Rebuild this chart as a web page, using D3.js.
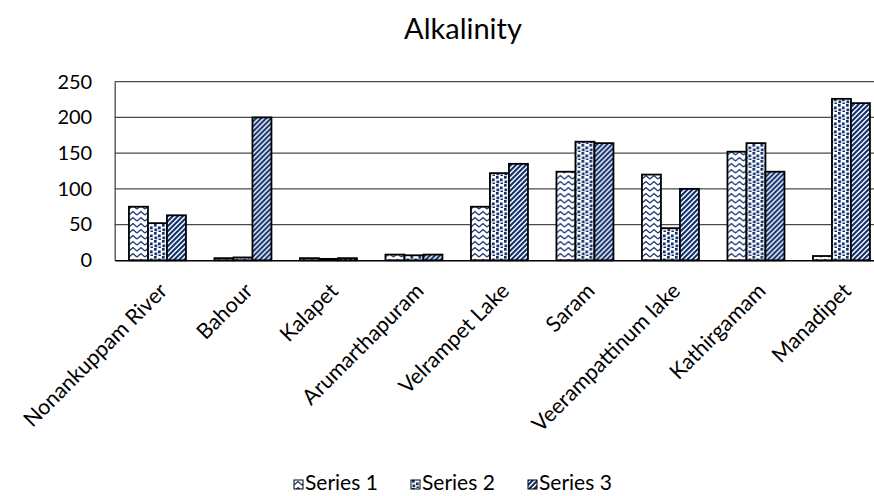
<!DOCTYPE html>
<html>
<head>
<meta charset="utf-8">
<script src="https://cdn.jsdelivr.net/npm/d3@7/dist/d3.min.js"></script>
<style>
  html, body { margin: 0; padding: 0; background: #fff; }
  svg { display: block; font-family: Lato, "Open Sans", sans-serif; }
</style>
</head>
<body>
<svg id="chart" width="874" height="496"></svg>
<script>
// Sampling sites along the x axis
const categories = ["Nonankuppam River", "Bahour", "Kalapet", "Arumarthapuram",
  "Velrampet Lake", "Saram", "Veerampattinum lake", "Kathirgamam", "Manadipet"];
const seriesNames = ["Series 1", "Series 2", "Series 3"];
const series1 = [75, 3, 3, 8, 75, 124, 120, 152, 6];
const series2 = [52, 4, 2, 7, 122, 166, 45, 164, 226];
const series3 = [63, 200, 3, 8, 135, 164, 100, 124, 220];
const yTicks = [0, 50, 100, 150, 200, 250];
const title = "Alkalinity";

const allSeries = [series1, series2, series3];
const navy = "#0f2f6e";

const svg = d3.select("#chart");
const plot = { left: 114.7, right: 884.2, top: 81.7, bottom: 260.3 };

// Fill patterns: zigzag, large confetti, wide upward diagonal
const defs = svg.append("defs");

const zig = defs.append("pattern").attr("id", "pat0")
  .attr("patternUnits", "userSpaceOnUse").attr("width", 8).attr("height", 6);
zig.append("rect").attr("width", 8).attr("height", 6).attr("fill", "#fff");
zig.append("polyline").attr("points", "0,5 4,1.5 8,5")
  .attr("fill", "none").attr("stroke", navy).attr("stroke-width", 1.3);

const conf = defs.append("pattern").attr("id", "pat1")
  .attr("patternUnits", "userSpaceOnUse").attr("width", 8).attr("height", 8);
conf.append("rect").attr("width", 8).attr("height", 8).attr("fill", "#fff");
[[1, 0], [5, 2.5], [1.5, 4.5], [5.5, 6.5]].forEach(([x, y]) => {
  conf.append("rect").attr("x", x).attr("y", y).attr("width", 2.7).attr("height", 2.7).attr("fill", navy);
});

const diag = defs.append("pattern").attr("id", "pat2")
  .attr("patternUnits", "userSpaceOnUse").attr("width", 5).attr("height", 5);
diag.append("rect").attr("width", 5).attr("height", 5).attr("fill", "#fff");
diag.append("path").attr("d", "M-1,6 L6,-1 M-1,1 L1,-1 M4,6 L6,4")
  .attr("stroke", navy).attr("stroke-width", 2.1);

// Scales
const x0 = d3.scaleBand().domain(categories)
  .range([plot.left, plot.right]).paddingInner(1 / 3).paddingOuter(1 / 6);
const x1 = d3.scaleBand().domain(d3.range(3)).range([0, x0.bandwidth()]);
const y = d3.scaleLinear().domain([0, 250]).range([plot.bottom, plot.top]);

// Title
svg.append("text").attr("x", 463).attr("y", 39).attr("text-anchor", "middle")
  .attr("font-size", 29).attr("fill", "#000").text(title);

// Gridlines
svg.append("g").selectAll("line").data(yTicks.filter(d => d > 0)).join("line")
  .attr("x1", plot.left).attr("x2", plot.right)
  .attr("y1", d => y(d)).attr("y2", d => y(d))
  .attr("stroke", "#4a4a4a").attr("stroke-width", 1.3);

// Y axis
const yAxis = svg.append("g").attr("transform", `translate(${plot.left},0)`)
  .call(d3.axisLeft(y).tickValues(yTicks).tickSize(0).tickPadding(22.5));
yAxis.select(".domain").attr("stroke", "#4a4a4a").attr("stroke-width", 1.3);
yAxis.selectAll("text").attr("font-size", 20).attr("fill", "#000")
  .attr("font-family", "Lato, sans-serif");

// Bars
const groups = svg.append("g").selectAll("g").data(categories).join("g")
  .attr("transform", d => `translate(${x0(d)},0)`);
groups.selectAll("rect").data((c, i) => allSeries.map((s, k) => ({ k, v: s[i] }))).join("rect")
  .attr("x", d => x1(d.k)).attr("width", x1.bandwidth())
  .attr("y", d => y(d.v)).attr("height", d => y(0) - y(d.v))
  .attr("fill", d => `url(#pat${d.k})`)
  .attr("stroke", "#000").attr("stroke-width", 1.8);

// X axis
const xAxis = svg.append("g").attr("transform", `translate(0,${plot.bottom})`)
  .call(d3.axisBottom(x0).tickSize(0).tickFormat(""));
xAxis.select(".domain").attr("stroke", "#000").attr("stroke-width", 1.5);

svg.append("g").selectAll("text").data(categories).join("text")
  .attr("transform", d => `translate(${x0(d) + x0.bandwidth() / 2 + 11},${plot.bottom + 32}) rotate(-45)`)
  .attr("text-anchor", "end").attr("font-size", 21.5).attr("fill", "#000")
  .text(d => d);

// Legend
const legend = svg.append("g");
const itemW = 117;
const legendX = 294;
seriesNames.forEach((name, k) => {
  const g = legend.append("g").attr("transform", `translate(${legendX + k * itemW},480)`);
  g.append("rect").attr("x", 0).attr("y", 0).attr("width", 9).attr("height", 9)
    .attr("fill", `url(#pat${k})`).attr("stroke", "#000").attr("stroke-width", 1);
  g.append("text").attr("x", 11).attr("y", 10).attr("font-size", 21).attr("fill", "#000").text(name);
});
</script>
</body>
</html>
